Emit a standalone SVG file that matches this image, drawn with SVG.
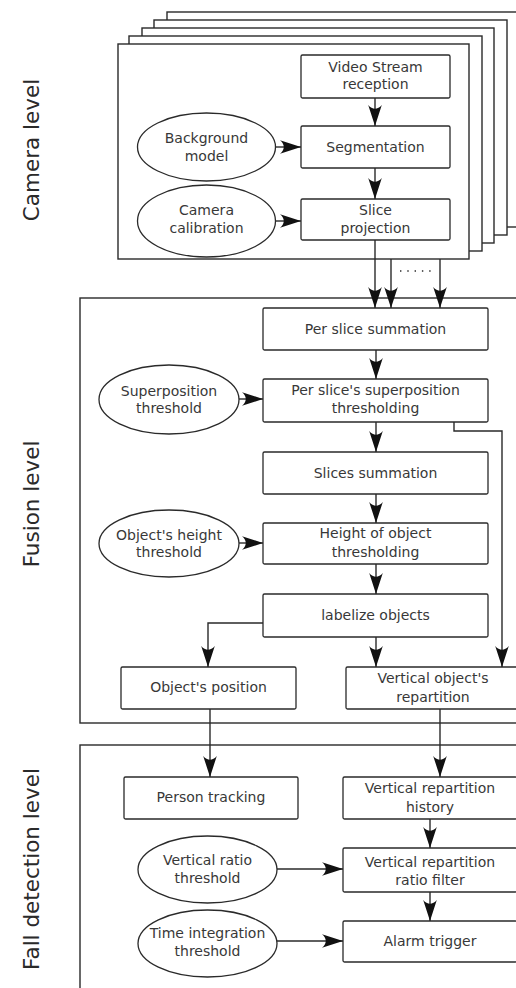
<svg xmlns="http://www.w3.org/2000/svg" width="516" height="988" viewBox="0 0 516 988">
  <style>
    .frame { fill: #ffffff; stroke: #2a2a2a; stroke-width: 1.4; }
    .box { fill: #ffffff; stroke: #2a2a2a; stroke-width: 1.3; }
    .oval { fill: #ffffff; stroke: #2a2a2a; stroke-width: 1.3; }
    .lbl { font-family: "DejaVu Sans", "Liberation Sans", sans-serif; font-size: 14px; fill: #383838; text-anchor: middle; }
    .side { font-family: "DejaVu Sans", "Liberation Sans", sans-serif; font-size: 21.5px; fill: #2a2a2a; text-anchor: middle; }
    .wire { fill: none; stroke: #2a2a2a; stroke-width: 1.4; marker-end: url(#head); }
    .plain { fill: none; stroke: #2a2a2a; stroke-width: 1.4; }
  </style>
  <defs>
    <marker id="head" markerUnits="userSpaceOnUse" viewBox="-22 -8 23 16" markerWidth="23" markerHeight="16" refX="0" refY="0" orient="auto">
      <path d="M0,0 L-21,-6.8 C-16,-2.6 -16,2.6 -21,6.8 Z" fill="#111111"/>
    </marker>
  </defs>

  <!-- level titles -->
  <g id="titles">
    <text class="side" transform="translate(39,150) rotate(-90)">Camera level</text>
    <text class="side" transform="translate(39,504) rotate(-90)">Fusion level</text>
    <text class="side" transform="translate(39,869) rotate(-90)">Fall detection level</text>
  </g>

  <!-- stacked camera frames, back to front -->
  <g id="camera-stack">
    <rect class="frame" x="167" y="12" width="360" height="215"/>
    <rect class="frame" x="154" y="20" width="353" height="215"/>
    <rect class="frame" x="142" y="28" width="352" height="215"/>
    <rect class="frame" x="129" y="36" width="353" height="215"/>
    <rect class="frame" x="118" y="44" width="351" height="215"/>
  </g>

  <!-- level frames -->
  <g id="fusion-frame">
    <rect class="frame" x="80" y="298" width="460" height="425"/>
  </g>
  <g id="fall-frame">
    <rect class="frame" x="80" y="745" width="460" height="260"/>
  </g>

  <!-- camera level -->
  <g id="video-stream">
    <rect class="box" x="301" y="55" width="149" height="43" rx="1.5"/>
    <text class="lbl" x="375.5" y="72">Video Stream</text>
    <text class="lbl" x="375.5" y="89">reception</text>
  </g>
  <g id="segmentation">
    <rect class="box" x="301" y="126" width="149" height="42" rx="1.5"/>
    <text class="lbl" x="375.5" y="152">Segmentation</text>
  </g>
  <g id="slice-projection">
    <rect class="box" x="301" y="199" width="149" height="41" rx="1.5"/>
    <text class="lbl" x="375.5" y="215">Slice</text>
    <text class="lbl" x="375.5" y="233">projection</text>
  </g>
  <g id="background-model">
    <ellipse class="oval" cx="206.5" cy="147" rx="69" ry="34"/>
    <text class="lbl" x="206.5" y="143">Background</text>
    <text class="lbl" x="206.5" y="161">model</text>
  </g>
  <g id="camera-calibration">
    <ellipse class="oval" cx="206.5" cy="221" rx="69" ry="36"/>
    <text class="lbl" x="206.5" y="215">Camera</text>
    <text class="lbl" x="206.5" y="233">calibration</text>
  </g>

  <!-- fusion level -->
  <g id="per-slice-summation">
    <rect class="box" x="263" y="308" width="225" height="42" rx="1.5"/>
    <text class="lbl" x="375.5" y="334">Per slice summation</text>
  </g>
  <g id="superposition-thresholding">
    <rect class="box" x="263" y="379" width="225" height="43" rx="1.5"/>
    <text class="lbl" x="375.5" y="395">Per slice's superposition</text>
    <text class="lbl" x="375.5" y="413">thresholding</text>
  </g>
  <g id="superposition-threshold">
    <ellipse class="oval" cx="169" cy="399.5" rx="70" ry="34.5"/>
    <text class="lbl" x="169" y="396">Superposition</text>
    <text class="lbl" x="169" y="413">threshold</text>
  </g>
  <g id="slices-summation">
    <rect class="box" x="263" y="452" width="225" height="42" rx="1.5"/>
    <text class="lbl" x="375.5" y="478">Slices summation</text>
  </g>
  <g id="height-thresholding">
    <rect class="box" x="263" y="523" width="225" height="41" rx="1.5"/>
    <text class="lbl" x="375.5" y="538">Height of object</text>
    <text class="lbl" x="375.5" y="557">thresholding</text>
  </g>
  <g id="height-threshold">
    <ellipse class="oval" cx="169" cy="543.5" rx="70" ry="33.5"/>
    <text class="lbl" x="169" y="540">Object's height</text>
    <text class="lbl" x="169" y="557">threshold</text>
  </g>
  <g id="labelize-objects">
    <rect class="box" x="263" y="594" width="225" height="43" rx="1.5"/>
    <text class="lbl" x="375.5" y="620">labelize objects</text>
  </g>
  <g id="object-position">
    <rect class="box" x="121" y="667" width="175" height="42" rx="1.5"/>
    <text class="lbl" x="208.5" y="692">Object's position</text>
  </g>
  <g id="vertical-repartition">
    <rect class="box" x="346" y="667" width="174" height="42" rx="1.5"/>
    <text class="lbl" x="433" y="683">Vertical object's</text>
    <text class="lbl" x="433" y="702">repartition</text>
  </g>

  <!-- fall detection level -->
  <g id="person-tracking">
    <rect class="box" x="124" y="777" width="174" height="42" rx="1.5"/>
    <text class="lbl" x="211" y="802">Person tracking</text>
  </g>
  <g id="repartition-history">
    <rect class="box" x="343" y="777" width="174" height="42" rx="1.5"/>
    <text class="lbl" x="430" y="793">Vertical repartition</text>
    <text class="lbl" x="430" y="812">history</text>
  </g>
  <g id="ratio-filter">
    <rect class="box" x="343" y="848" width="174" height="44" rx="1.5"/>
    <text class="lbl" x="430" y="867">Vertical repartition</text>
    <text class="lbl" x="430" y="885">ratio filter</text>
  </g>
  <g id="alarm-trigger">
    <rect class="box" x="343" y="921" width="174" height="41" rx="1.5"/>
    <text class="lbl" x="430" y="946">Alarm trigger</text>
  </g>
  <g id="ratio-threshold">
    <ellipse class="oval" cx="207.5" cy="869.5" rx="69.5" ry="33.5"/>
    <text class="lbl" x="207.5" y="865">Vertical ratio</text>
    <text class="lbl" x="207.5" y="883">threshold</text>
  </g>
  <g id="time-threshold">
    <ellipse class="oval" cx="207.5" cy="943.5" rx="69.5" ry="33.5"/>
    <text class="lbl" x="207.5" y="938">Time integration</text>
    <text class="lbl" x="207.5" y="956">threshold</text>
  </g>

  <!-- connectors -->
  <g id="connectors">
    <path class="wire" d="M375,98 V126"/>
    <path class="wire" d="M375,168 V199"/>
    <path class="wire" d="M276,147 H301"/>
    <path class="wire" d="M276,221 H301"/>
    <path class="wire" d="M375,240 V308"/>
    <path class="wire" d="M391,259 V308"/>
    <path class="wire" d="M440,259 V308"/>
    <line class="plain" x1="400" y1="271" x2="431" y2="271" stroke-dasharray="1.4 5.9" stroke="#777777" stroke-width="1.3"/>
    <path class="wire" d="M376,350 V379"/>
    <path class="wire" d="M239,399 H263"/>
    <path class="wire" d="M376,422 V452"/>
    <path class="wire" d="M454,422 V431 H502 V667"/>
    <path class="wire" d="M376,494 V523"/>
    <path class="wire" d="M239,543 H263"/>
    <path class="wire" d="M376,564 V594"/>
    <path class="wire" d="M263,623 H208 V667"/>
    <path class="wire" d="M376,637 V667"/>
    <path class="wire" d="M210,709 V777"/>
    <path class="wire" d="M440,709 V777"/>
    <path class="wire" d="M430,819 V848"/>
    <path class="wire" d="M430,892 V921"/>
    <path class="wire" d="M277,869 H343"/>
    <path class="wire" d="M277,941 H343"/>
  </g>
</svg>
